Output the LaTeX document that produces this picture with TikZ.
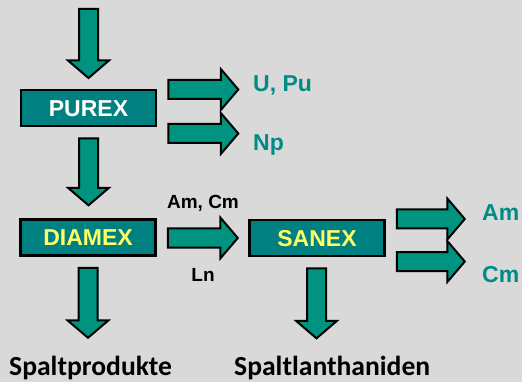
\documentclass[tikz,border=0pt]{standalone}
\usepackage{fontspec}
\setmainfont{Liberation Sans}
\newfontfamily\calibrilike{Carlito}
\usetikzlibrary{calc}

\definecolor{bggray}{HTML}{D9D9D9}
\definecolor{boxteal}{HTML}{008080}
\definecolor{arrowteal}{HTML}{009480}
\definecolor{labelteal}{HTML}{008C84}
\definecolor{boxyellow}{HTML}{FFFF66}

\tikzset{
  processbox/.style={draw=black, line width=2.6pt, fill=boxteal,
    minimum width=135pt, minimum height=36pt, inner sep=0pt,
    text height=16.5pt, text depth=0pt,
    font=\bfseries\fontsize{23}{26}\selectfont},
  arrowbody/.style={draw=black, line width=2pt, fill=arrowteal, line join=miter},
  streamlabel/.style={anchor=base west, inner sep=0pt, text=labelteal,
    font=\bfseries\fontsize{23}{26}\selectfont},
  flowlabel/.style={anchor=base, inner sep=0pt, text=black,
    font=\bfseries\fontsize{19}{22}\selectfont},
  productlabel/.style={anchor=base west, inner sep=0pt, text=black,
    font=\calibrilike\bfseries\fontsize{27.6}{32}\selectfont}
}

% block arrow: start point, direction angle, total length (pt)
\newcommand\blockarrow[3]{%
  \begin{scope}[shift={(#1)}, rotate=#2]
    \draw[arrowbody] (0pt,-9.5pt) -- ({#3pt-17.5pt},-9.5pt) -- ({#3pt-17.5pt},-20.5pt)
      -- (#3pt,0pt) -- ({#3pt-17.5pt},20.5pt) -- ({#3pt-17.5pt},9.5pt) -- (0pt,9.5pt) -- cycle;
  \end{scope}}

\begin{document}
\begin{tikzpicture}[x=1pt, y=-1pt]
  \fill[bggray] (0,0) rectangle (522,382);
  \useasboundingbox (0,0) rectangle (522,382);

  % process stages
  \node[processbox, text=white]      (purex)  at (88.5,108)   {PUREX};
  \node[processbox, text=boxyellow]  (diamex) at (88,237.5)   {DIAMEX};
  \node[processbox, text=boxyellow]  (sanex)  at (317,238)    {SANEX};

  % anchor points of the block arrows
  \coordinate (feed)    at (88.5,9);
  \coordinate (purexdn) at ($(purex.south)+(0,11)$);
  \coordinate (purexu)  at ($(purex.east)+(11,-18.5)$);
  \coordinate (purexnp) at ($(purex.east)+(11,25.5)$);
  \coordinate (diamexr) at ($(diamex.east)+(11,0.5)$);
  \coordinate (diamexd) at ($(diamex.south)+(0,11)$);
  \coordinate (sanexam) at ($(sanex.east)+(11,-19)$);
  \coordinate (sanexcm) at ($(sanex.east)+(11,23.5)$);
  \coordinate (sanexd)  at ($(sanex.south)+(-0.5,11)$);

  \blockarrow{feed}{-90}{69}
  \blockarrow{purexdn}{-90}{67}
  \blockarrow{purexu}{0}{70}
  \blockarrow{purexnp}{0}{70}
  \blockarrow{diamexr}{0}{70}
  \blockarrow{diamexd}{-90}{70}
  \blockarrow{sanexam}{0}{68}
  \blockarrow{sanexcm}{0}{68}
  \blockarrow{sanexd}{-90}{70}

  % stream labels
  \node[streamlabel] (upu) at (253,92)  {U, Pu};
  \node[streamlabel] (np)  at (253,151) {Np};
  \node[streamlabel] (am)  at (482,221) {Am};
  \node[streamlabel] (cm)  at (482,282) {Cm};
  \node[flowlabel]   (amcm) at (203,209) {Am, Cm};
  \node[flowlabel]   (ln)   at (203,281.5) {Ln};

  % end products
  \node[productlabel] (spp) at (9,375)   {Spaltprodukte};
  \node[productlabel] (spl) at (234,375) {Spaltlanthaniden};
\end{tikzpicture}
\end{document}
